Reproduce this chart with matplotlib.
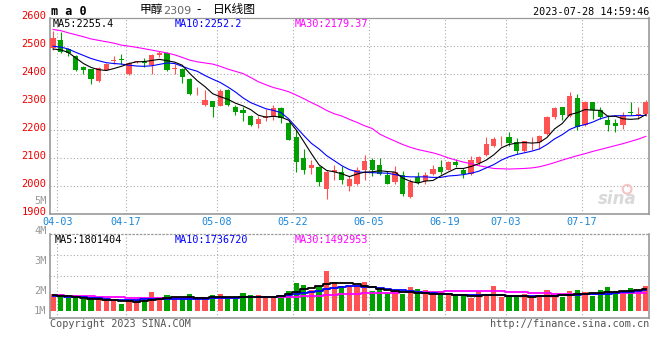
import numpy as np
import matplotlib.pyplot as plt
from matplotlib.transforms import offset_copy

W, H = 660, 360
MONO = 'DejaVu Sans Mono'
RED = '#ff5252'
GREEN = '#00a000'

dates = ['04-03', '04-17', '05-08', '05-22', '06-05', '06-19', '07-03', '07-17']
date_idx = [0, 9, 21, 31, 41, 51, 59, 69]
price_ticks = [1900, 2000, 2100, 2200, 2300, 2400, 2500, 2600]

opens = [2492, 2524, 2489, 2466, 2425, 2418, 2374, 2415, 2446, 2452,
         2399, 2445, 2442, 2432, 2470, 2475, 2418, 2419, 2383, 2335,
         2288, 2302, 2287, 2342, 2282, 2273, 2251, 2221, 2243, 2246,
         2278, 2225, 2175, 2098, 2063, 2068, 1987, 2049, 2049, 2001,
         2006, 2058, 2094, 2073, 2038, 2013, 2040, 1960, 2030, 2017,
         2044, 2068, 2058, 2084, 2056, 2041, 2080, 2112, 2142, 2166,
         2174, 2157, 2124, 2156, 2156, 2187, 2246, 2282, 2251, 2314,
         2219, 2299, 2272, 2237, 2225, 2219, 2266, 2253, 2258]
highs = [2555, 2552, 2492, 2470, 2430, 2420, 2425, 2440, 2465, 2472,
         2443, 2448, 2457, 2471, 2484, 2478, 2437, 2423, 2385, 2353,
         2344, 2305, 2345, 2345, 2288, 2281, 2253, 2249, 2275, 2289,
         2282, 2228, 2201, 2130, 2094, 2070, 2055, 2073, 2070, 2035,
         2068, 2112, 2100, 2100, 2052, 2072, 2052, 2025, 2050, 2049,
         2076, 2092, 2088, 2096, 2064, 2108, 2106, 2174, 2174, 2178,
         2193, 2171, 2162, 2175, 2183, 2249, 2284, 2284, 2336, 2330,
         2302, 2299, 2282, 2255, 2240, 2266, 2299, 2281, 2309]
lows = [2488, 2476, 2466, 2412, 2401, 2365, 2372, 2413, 2437, 2437,
        2397, 2439, 2427, 2400, 2463, 2411, 2401, 2370, 2327, 2324,
        2285, 2245, 2285, 2285, 2252, 2231, 2215, 2207, 2233, 2237,
        2225, 2163, 2049, 2044, 2041, 2001, 1951, 2020, 2008, 1981,
        2003, 2022, 2035, 2037, 2008, 2008, 1963, 1955, 2005, 2008,
        2040, 2044, 2055, 2068, 2029, 2037, 2076, 2106, 2139, 2144,
        2144, 2115, 2121, 2127, 2130, 2183, 2240, 2234, 2246, 2200,
        2213, 2240, 2240, 2195, 2191, 2204, 2252, 2240, 2251]
closes = [2528, 2481, 2475, 2415, 2413, 2383, 2422, 2437, 2449, 2450,
          2441, 2447, 2440, 2469, 2477, 2413, 2420, 2388, 2330, 2337,
          2308, 2281, 2338, 2288, 2263, 2259, 2217, 2240, 2251, 2278,
          2243, 2165, 2084, 2055, 2073, 2013, 2051, 2056, 2020, 2023,
          2058, 2090, 2058, 2041, 2008, 2049, 1969, 2014, 2011, 2040,
          2061, 2050, 2084, 2073, 2044, 2094, 2102, 2148, 2168, 2169,
          2154, 2124, 2160, 2158, 2180, 2245, 2278, 2252, 2322, 2212,
          2299, 2270, 2245, 2219, 2213, 2251, 2261, 2258, 2301]

ma5 = [2490, 2487, 2478, 2458, 2438, 2424, 2416, 2413, 2420, 2428,
       2438, 2444, 2445, 2449, 2453, 2448, 2443, 2432, 2402, 2376,
       2355, 2330, 2319, 2310, 2296, 2286, 2273, 2253, 2246, 2249,
       2246, 2235, 2200, 2158, 2115, 2075, 2055, 2050, 2043, 2033,
       2042, 2049, 2050, 2054, 2051, 2049, 2028, 2016, 2010, 2017,
       2019, 2035, 2049, 2062, 2062, 2069, 2079, 2092, 2111, 2136,
       2148, 2153, 2155, 2153, 2155, 2173, 2204, 2223, 2255, 2262,
       2273, 2271, 2270, 2249, 2249, 2240, 2238, 2240, 2255]
ma10 = [2500, 2497, 2490, 2478, 2467, 2456, 2448, 2441, 2438, 2436,
        2432, 2429, 2428, 2430, 2435, 2440, 2438, 2428, 2418, 2410,
        2395, 2382, 2370, 2354, 2336, 2315, 2298, 2287, 2276, 2270,
        2262, 2240, 2210, 2180, 2152, 2132, 2108, 2090, 2072, 2058,
        2050, 2048, 2047, 2046, 2045, 2040, 2034, 2032, 2032, 2032,
        2030, 2030, 2035, 2037, 2040, 2045, 2052, 2064, 2076, 2092,
        2104, 2112, 2118, 2124, 2132, 2148, 2168, 2183, 2202, 2213,
        2219, 2228, 2240, 2248, 2251, 2251, 2251, 2252, 2252]
ma30 = [2560, 2556, 2548, 2541, 2534, 2526, 2521, 2516, 2511, 2504,
        2500, 2496, 2491, 2486, 2481, 2476, 2469, 2460, 2450, 2444,
        2440, 2436, 2428, 2418, 2410, 2402, 2388, 2373, 2362, 2352,
        2345, 2337, 2325, 2312, 2298, 2285, 2270, 2258, 2250, 2238,
        2227, 2215, 2205, 2185, 2172, 2160, 2148, 2138, 2130, 2124,
        2118, 2110, 2100, 2092, 2085, 2079, 2072, 2067, 2062, 2061,
        2060, 2061, 2062, 2064, 2068, 2075, 2083, 2092, 2100, 2108,
        2115, 2123, 2130, 2137, 2144, 2151, 2159, 2167, 2177]

# volume, millions
vol = [1.45, 1.45, 1.08, 1.36, 0.97, 1.17, 1.14, 0.97, 0.89, 0.56,
       0.94, 0.89, 0.89, 1.55, 1.03, 1.30, 1.11, 1.03, 1.39, 1.08,
       1.03, 1.30, 1.39, 1.00, 1.00, 1.47, 1.30, 1.30, 1.17, 1.17,
       1.30, 1.67, 2.33, 2.14, 1.78, 2.05, 3.33, 2.41, 2.05, 2.05,
       2.05, 2.41, 1.67, 1.85, 1.50, 1.78, 1.39, 2.00, 1.85, 1.72,
       1.39, 1.67, 1.44, 1.22, 1.30, 1.08, 1.64, 1.22, 2.05, 1.17,
       1.30, 1.30, 1.39, 1.17, 1.17, 1.72, 1.22, 1.17, 1.67, 1.75,
       1.62, 1.22, 1.75, 2.04, 1.70, 1.65, 1.90, 1.65, 2.12]
vma5 = [1.30, 1.26, 1.22, 1.18, 1.10, 1.00, 0.98, 0.95, 0.88, 0.82,
        0.80, 0.78, 0.80, 0.95, 1.02, 1.10, 1.18, 1.15, 1.18, 1.12,
        1.12, 1.15, 1.18, 1.16, 1.16, 1.18, 1.20, 1.20, 1.20, 1.16,
        1.28, 1.40, 1.60, 1.80, 1.95, 2.12, 2.22, 2.30, 2.35, 2.30,
        2.22, 2.10, 1.98, 1.85, 1.72, 1.65, 1.60, 1.56, 1.52, 1.48,
        1.45, 1.42, 1.40, 1.36, 1.30, 1.28, 1.26, 1.30, 1.32, 1.30,
        1.26, 1.24, 1.22, 1.20, 1.22, 1.26, 1.28, 1.30, 1.35, 1.40,
        1.45, 1.48, 1.50, 1.55, 1.60, 1.64, 1.68, 1.72, 1.80]
vma10 = [1.23, 1.22, 1.20, 1.18, 1.16, 1.12, 1.06, 1.00, 0.94, 0.90,
         0.90, 0.92, 0.96, 0.98, 0.98, 0.98, 0.98, 1.00, 1.02, 1.03,
         1.04, 1.06, 1.08, 1.10, 1.12, 1.13, 1.14, 1.15, 1.17, 1.19,
         1.22, 1.30, 1.38, 1.46, 1.56, 1.66, 1.80, 1.92, 2.02, 2.05,
         2.05, 2.02, 1.98, 1.94, 1.86, 1.78, 1.72, 1.66, 1.60, 1.54,
         1.48, 1.42, 1.38, 1.35, 1.33, 1.32, 1.31, 1.31, 1.31, 1.30,
         1.28, 1.27, 1.26, 1.25, 1.23, 1.22, 1.25, 1.30, 1.33, 1.36,
         1.38, 1.40, 1.42, 1.44, 1.50, 1.56, 1.60, 1.66, 1.74]
vma30 = [1.31, 1.30, 1.28, 1.26, 1.25, 1.22, 1.20, 1.18, 1.16, 1.14,
         1.12, 1.11, 1.10, 1.10, 1.09, 1.09, 1.10, 1.10, 1.11, 1.11,
         1.11, 1.12, 1.12, 1.12, 1.12, 1.13, 1.13, 1.13, 1.14, 1.14,
         1.15, 1.17, 1.19, 1.21, 1.23, 1.26, 1.30, 1.34, 1.38, 1.41,
         1.44, 1.46, 1.48, 1.50, 1.52, 1.53, 1.55, 1.57, 1.58, 1.59,
         1.60, 1.62, 1.63, 1.64, 1.65, 1.66, 1.67, 1.67, 1.67, 1.65,
         1.62, 1.58, 1.55, 1.52, 1.50, 1.47, 1.45, 1.44, 1.44, 1.44,
         1.44, 1.45, 1.45, 1.46, 1.46, 1.47, 1.48, 1.48, 1.49]
vol_labels = ['5M', '4M', '3M', '2M', '1M']

o = np.array(opens); h = np.array(highs); l = np.array(lows); c = np.array(closes)
x = np.arange(len(o))
cols = np.where(c >= o, RED, GREEN)

fig = plt.figure(figsize=(6.6, 3.6), dpi=100)
L, R = 50.3, 649.3


def box(top, bottom):
    return [L / W, 1 - bottom / H, (R - L) / W, (bottom - top) / H]


def ftext(px, py, s, **kw):
    kw.setdefault('family', MONO)
    kw.setdefault('fontsize', 7.3)
    fig.text(px / W, 1 - py / H, s, **kw)


ax = fig.add_axes(box(18.3, 213.7))
axv = fig.add_axes(box(234.3, 318.0))
xlim = (-0.36, 78.46)
xg = np.array(date_idx) + 0.55
grid_kw = dict(colors='#aaaaaa', linestyles=(0, (1, 2)), lw=0.8, zorder=0)

# price panel
ax.set_xlim(*xlim)
ax.set_ylim(1900, 2600)
ax.vlines(xg, 1900, 2600, **grid_kw)
ax.hlines(price_ticks[1:-1], *xlim, **grid_kw)
ax.vlines(x, l, h, colors=cols, lw=0.8, zorder=2)
body = np.maximum(np.abs(c - o), 2.5)
ax.bar(x, body, bottom=np.minimum(o, c), width=0.7, color=cols, lw=0, zorder=3)
ax.plot(x, ma30, color='#ff00ff', lw=0.8, zorder=4)
ax.plot(x, ma10, color='#0000ff', lw=0.8, zorder=4)
ax.plot(x, ma5, color='black', lw=0.8, zorder=4)

ytr = offset_copy(ax.get_yaxis_transform(), fig=fig, x=0, y=2, units='dots')
for v in price_ticks:
    ax.text(-0.006, v, str(v), transform=ytr, ha='right', va='center',
            color='#ee0000', fontsize=7.5, family=MONO)
for xi, d in zip(xg, dates):
    ax.text(xi, -0.041, d, transform=ax.get_xaxis_transform(), ha='center',
            va='center', color='#1a86d8', fontsize=7.3, family=MONO)

ax.text(0.004, 0.97, 'MA5:2255.4', transform=ax.transAxes, va='center',
        color='black', fontsize=7.3, family=MONO)
ax.text(0.208, 0.97, 'MA10:2252.2', transform=ax.transAxes, va='center',
        color='#0000ff', fontsize=7.3, family=MONO)
ax.text(0.408, 0.97, 'MA30:2179.37', transform=ax.transAxes, va='center',
        color='#ff00ff', fontsize=7.3, family=MONO)
ax.text(0.978, 0.075, 'sina', transform=ax.transAxes, ha='right', va='center',
        color='#d9d9d9', fontsize=12, style='italic', weight='bold', zorder=1)
ax.scatter([0.963], [0.125], transform=ax.transAxes, s=40, facecolors='none',
           edgecolors='#f4c4c4', lw=1.5, zorder=1)

# volume panel
axv.set_xlim(*xlim)
axv.set_ylim(-0.583, 6.39)
axv.vlines(xg, -0.583, 6.39, **grid_kw)
axv.hlines([4.67, 2.92, 1.17], *xlim, **grid_kw)
axv.bar(x, vol, width=0.7, color=cols, lw=0, zorder=2)
axv.plot(x, vma30, color='#ff00ff', lw=1.3, drawstyle='steps-mid', zorder=3)
axv.plot(x, vma10, color='#0000ff', lw=1.3, drawstyle='steps-mid', zorder=3)
axv.plot(x, vma5, color='black', lw=1.3, drawstyle='steps-mid', zorder=3)
axv.text(0.008, 0.93, 'MA5:1801404', transform=axv.transAxes, va='center',
         color='black', fontsize=7.3, family=MONO)
axv.text(0.208, 0.93, 'MA10:1736720', transform=axv.transAxes, va='center',
         color='#0000ff', fontsize=7.3, family=MONO)
axv.text(0.408, 0.93, 'MA30:1492953', transform=axv.transAxes, va='center',
         color='#ff00ff', fontsize=7.3, family=MONO)

for a in (ax, axv):
    a.set_xticks([])
    a.set_yticks([])
    a.patch.set_alpha(0)
    for s in a.spines.values():
        s.set_color('#999999')
        s.set_linewidth(1.2)
ax.spines['top'].set_linewidth(0.9)
axv.spines['top'].set_linestyle((0, (1, 2)))
axv.spines['top'].set_linewidth(0.9)

# labels outside the panels
for lab, py in zip(vol_labels, [201, 230.7, 261, 290.7, 310.7]):
    ftext(46.7, py, lab, ha='right', va='center', color='#999999', fontsize=7.5)
ftext(51, 11.7, 'm a 0', va='center', weight='bold', fontsize=8.5)
ftext(140, 10, '甲醇', va='center', family=['Noto Sans CJK SC', 'DejaVu Sans'], fontsize=8.5)
ftext(163.5, 10.5, '2309', va='center', family='DejaVu Sans', color='#666666', fontsize=8)
ftext(196, 10, '-', va='center', family='DejaVu Sans', fontsize=8.5)
ftext(213, 10, '日K线图', va='center', family=['Noto Sans CJK SC', 'DejaVu Sans'], fontsize=8.5)
ftext(649.3, 12.3, '2023-07-28 14:59:46', ha='right', va='center', color='black')
ftext(50, 324, 'Copyright 2023 SINA.COM', va='center', color='#555555')
ftext(649.3, 324, 'http://finance.sina.com.cn', ha='right', va='center', color='#555555')

fig.savefig('out.png', dpi=100)
